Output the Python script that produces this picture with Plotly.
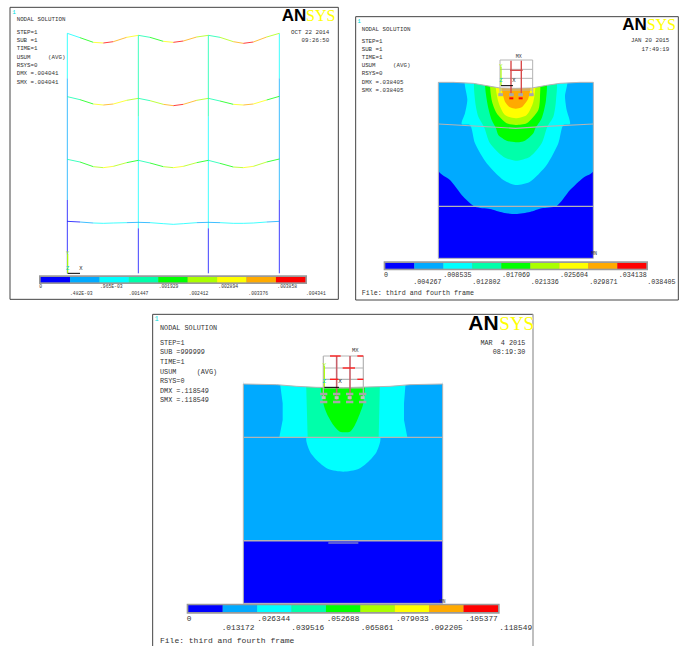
import plotly.graph_objects as go

BANDS = ['#0000ff', '#00aaff', '#00ffff', '#00ffaa', '#00ff00', '#aaff00', '#ffff00', '#ffaa00', '#ff0000']
GREY = '#b4b4b4'
INK = '#333333'
MONO = 'Liberation Mono'

# ---- panel 1 data (frame deflection, coordinates in panel units) ----
p1_info = ['NODAL SOLUTION', 'STEP=1', 'SUB =1', 'TIME=1', 'USUM     (AVG)', 'RSYS=0', 'DMX =.004041', 'SMX =.004041']
p1_info_y = [59, 97, 122, 147, 172, 197, 222, 248]
p1_date = ['OCT 22 2014', '09:26:50']
p1_labels_top = ['0', '.965E-03', '.001929', '.002894', '.003858']
p1_labels_top_x = [118, 300, 476, 655, 832]
p1_labels_bot = ['.482E-03', '.001447', '.002412', '.003376', '.004341']
p1_labels_bot_x = [210, 386, 566, 745, 918]
p1_floor_x = [202, 240, 280, 310, 340, 380, 415, 450, 490, 520, 550, 590, 625, 660, 700, 730, 760, 800, 838]
p1_floor1_y = [100, 113, 127, 129, 125, 112, 106, 112, 124, 127, 123, 111, 106, 112, 125, 130, 126, 111, 100]
p1_floor1_c = [2, 4, 6, 8, 7, 6, 3, 4, 6, 8, 7, 5, 3, 5, 7, 8, 7, 5, 3]
p1_floor2_y = [290, 299, 312, 315, 312, 301, 295, 302, 313, 317, 313, 301, 295, 303, 313, 315, 312, 300, 289]
p1_floor2_c = [3, 4, 6, 7, 6, 5, 3, 5, 7, 8, 7, 5, 3, 4, 6, 7, 6, 4, 3]
p1_floor3_y = [478, 486, 500, 503, 499, 488, 481, 489, 500, 503, 499, 488, 481, 490, 501, 503, 499, 486, 477]
p1_floor3_c = [3, 4, 5, 6, 5, 4, 3, 4, 5, 6, 5, 4, 3, 4, 5, 6, 5, 4, 3]
p1_floor4_y = [664, 666, 669, 670, 669, 668, 667, 668, 671, 673, 671, 668, 667, 668, 670, 670, 669, 666, 664]
p1_floor4_c = [0, 1, 2, 2, 2, 1, 1, 2, 2, 2, 2, 1, 1, 2, 2, 2, 2, 1, 0]
p1_columns_x = [202, 415, 625, 838]
p1_column_y = [[100, 235, 600, 820], [106, 350, 685, 820], [106, 350, 685, 820], [100, 235, 600, 820]]
p1_column_c = [[2, 1, 0], [3, 2, 0], [3, 2, 0], [2, 1, 0]]

# ---- panel 2 data ----
p2_info = ['NODAL SOLUTION', 'STEP=1', 'SUB =1', 'TIME=1', 'USUM     (AVG)', 'RSYS=0', 'DMX =.038405', 'SMX =.038405']
p2_info_y = [58, 94, 118, 143, 167, 192, 217, 241]
p2_date = ['JAN 20 2015', '17:49:19']
p2_labels_top = ['0', '.008535', '.017069', '.025604', '.034138']
p2_labels_top_x = [102, 280, 456, 630, 806]
p2_labels_bot = ['.004267', '.012802', '.021336', '.029871', '.038405']
p2_labels_bot_x = [190, 367, 542, 718, 892]
p2_surface_x = [265, 310, 370, 410, 450, 497, 545, 590, 630, 690, 730]
p2_surface_y = [217, 217, 220, 226, 234, 235, 234, 226, 220, 217, 217]
p2_blue_x = [265, 730, 730, 265]
p2_blue_y = [217, 217, 745, 745]
p2_band1_x = [265, 730, 730, 700, 660, 620, 575, 540, 497, 460, 420, 375, 340, 300, 265]
p2_band1_y = [217, 217, 484, 503, 540, 588, 595, 606, 612, 608, 597, 590, 560, 510, 482]
p2_band2_x = [347, 650, 645, 650, 660, 640, 625, 590, 540, 497, 460, 410, 375, 360, 335, 345, 352]
p2_band2_y = [200, 200, 260, 300, 342, 345, 400, 465, 515, 525, 510, 460, 400, 345, 342, 310, 270]
p2_band3_x = [378, 615, 618, 610, 592, 575, 540, 497, 460, 420, 402, 385, 375]
p2_band3_y = [200, 200, 270, 320, 350, 400, 440, 452, 440, 400, 350, 320, 270]
p2_band4_x = [410, 585, 588, 575, 556, 550, 525, 497, 470, 445, 438, 425, 412]
p2_band4_y = [200, 200, 270, 325, 355, 370, 392, 397, 392, 375, 355, 330, 280]
p2_band5_x = [425, 565, 570, 565, 530, 497, 470, 440, 425]
p2_band5_y = [200, 200, 260, 300, 340, 345, 340, 310, 270]
p2_band6_x = [440, 552, 550, 530, 497, 465, 445]
p2_band6_y = [200, 200, 275, 315, 325, 315, 275]
p2_band7_x = [455, 540, 535, 515, 497, 480, 465]
p2_band7_y = [200, 200, 265, 292, 296, 292, 275]
p2_layer1_x = [265, 420, 497, 575, 730]
p2_layer1_y = [342, 350, 355, 350, 342]
p2_layer2_x = [265, 730]
p2_layer2_y = [589, 589]

# ---- panel 3 data ----
p3_info = ['NODAL SOLUTION', 'STEP=1', 'SUB =999999', 'TIME=1', 'USUM     (AVG)', 'RSYS=0', 'DMX =.118549', 'SMX =.118549']
p3_info_y = [56, 99, 128, 157, 186, 214, 243, 272]
p3_date = ['MAR  4 2015', '08:19:30']
p3_labels_top = ['0', '.026344', '.052688', '.079033', '.105377']
p3_labels_top_x = [110, 322, 530, 738, 945]
p3_labels_bot = ['.013172', '.039516', '.065861', '.092205', '.118549']
p3_labels_bot_x = [215, 424, 632, 840, 1048]
p3_surface_x = [280, 380, 440, 500, 580, 640, 720, 780, 878]
p3_surface_y = [222, 224, 229, 232, 233, 232, 229, 224, 222]
p3_blue_x = [280, 878, 878, 280]
p3_blue_y = [692, 692, 880, 880]
p3_band1_x = [280, 878, 878, 280]
p3_band1_y = [205, 205, 695, 695]
p3_band2u_x = [388, 768, 762, 762, 772, 388, 398, 398]
p3_band2u_y = [205, 205, 280, 330, 382, 382, 330, 280]
p3_band2l_x = [470, 690, 680, 655, 625, 580, 535, 505, 480]
p3_band2l_y = [380, 380, 425, 455, 477, 485, 477, 455, 425]
p3_band3_x = [468, 690, 686, 473]
p3_band3_y = [205, 205, 385, 385]
p3_band4_x = [515, 640, 640, 630, 615, 600, 570, 550, 530, 520]
p3_band4_y = [205, 205, 280, 310, 345, 365, 365, 345, 310, 280]


def axes_for(fig, idx, crop, cw=684, ch=646):
    x, y, w, h = crop
    sx = 'xaxis' if idx == 1 else f'xaxis{idx}'
    sy = 'yaxis' if idx == 1 else f'yaxis{idx}'
    fig.layout[sx] = dict(domain=[x / cw, (x + w) / cw], range=[0, w * 3], visible=False, fixedrange=True,
                          anchor=f'y{idx}')
    fig.layout[sy] = dict(domain=[1 - (y + h) / ch, 1 - y / ch], range=[h * 3, 0], visible=False, fixedrange=True,
                          anchor=f'x{idx}')


fig = go.Figure()
for i, crop in enumerate([(0, 0, 340, 310), (350, 10, 334, 295), (150, 310, 390, 336)], 1):
    axes_for(fig, i, crop)


def ref(i):
    return dict(xaxis=f'x{i}', yaxis=f'y{i}')


def poly(i, xs, ys, color, smooth=False):
    fig.add_trace(go.Scatter(x=xs + xs[:1], y=ys + ys[:1], mode='lines', fill='toself', fillcolor=color,
                             line=dict(width=0, color=color, shape='spline' if smooth else 'linear', smoothing=0.7),
                             hoverinfo='skip', **ref(i)))


def line(i, xs, ys, color, width=1.0, opacity=1.0):
    fig.add_trace(go.Scatter(x=xs, y=ys, mode='lines', opacity=opacity, line=dict(color=color, width=width),
                             hoverinfo='skip', **ref(i)))


def text(i, xs, ys, labels, size, color=INK, pos='middle right', family=MONO):
    fig.add_trace(go.Scatter(x=xs, y=ys, text=labels, mode='text', textposition=pos,
                             textfont=dict(family=family, size=size, color=color), hoverinfo='skip', **ref(i)))


def frame(i, x0, y0, x1, y1):
    line(i, [x0, x1, x1, x0, x0], [y0, y0, y1, y1, y0], '#444444', 1)


def legend_bar(i, x0, x1, y0, y1):
    poly(i, [x0 - 5, x1 + 5, x1 + 5, x0 - 5], [y0 - 5, y0 - 5, y1 + 5, y1 + 5], '#9a9a9a')
    step = (x1 - x0) / len(BANDS)
    for k, c in enumerate(BANDS):
        poly(i, [x0 + k * step, x0 + (k + 1) * step, x0 + (k + 1) * step, x0 + k * step], [y0, y0, y1, y1], c)


def logo(i, xa, xs, y, size_a, size_s):
    text(i, [xa], [y], ['<b>AN</b>'], size_a, '#000000', family='Liberation Sans')
    text(i, [xs], [y], ['SYS'], size_s, '#ffff00', family='Liberation Serif')


def triad(i, x, y_top, y_mid, y_bot, x_lbl, size):
    line(i, [x, x], [y_top, y_bot], '#aaff00', 1.2)
    text(i, [x], [y_top], ['Y'], size, '#aaff00', 'middle center')
    text(i, [x], [y_mid], ['Z'], size, '#00cccc', 'middle center')
    line(i, [x, x_lbl - 3], [y_bot, y_bot], '#000000', 1)
    text(i, [x_lbl], [y_mid], ['X'], size, '#222222', 'middle center')


# Panel 1
frame(1, 30, 22, 1015, 898)
text(1, [42], [37], ['1'], 6, '#00dddd', 'middle center')
text(1, [50] * len(p1_info), p1_info_y, p1_info, 5.8)
text(1, [988, 988], [97, 122], p1_date, 5.8, pos='middle left')
logo(1, 845, 918, 50, 17, 16)
for col_x, col_y, col_c in zip(p1_columns_x, p1_column_y, p1_column_c):
    for k, c in enumerate(col_c):
        line(1, [col_x, col_x], [col_y[k], col_y[k + 1]], BANDS[c], 1.0, 0.75)
for ys_f, cs_f in [(p1_floor1_y, p1_floor1_c), (p1_floor2_y, p1_floor2_c), (p1_floor3_y, p1_floor3_c), (p1_floor4_y, p1_floor4_c)]:
    for k in range(len(p1_floor_x) - 1):
        line(1, p1_floor_x[k:k + 2], ys_f[k:k + 2], BANDS[cs_f[k]], 1.0, 0.75)
triad(1, 203, 762, 805, 820, 243, 5.5)
legend_bar(1, 122, 916, 831, 847)
text(1, p1_labels_top_x, [860] * 5, p1_labels_top, 4.7)
text(1, p1_labels_bot_x, [881] * 5, p1_labels_bot, 4.7)

# Panel 2
frame(2, 17, 20, 985, 870)
text(2, [27], [35], ['1'], 6, '#00dddd', 'middle center')
text(2, [35] * len(p2_info), p2_info_y, p2_info, 5.8)
text(2, [958, 958], [93, 118], p2_date, 5.8, pos='middle left')
logo(2, 817, 890, 48, 17, 16)
poly(2, p2_blue_x, p2_blue_y, BANDS[0])
poly(2, p2_band1_x, p2_band1_y, BANDS[1], True)
poly(2, p2_band2_x, p2_band2_y, BANDS[2], True)
poly(2, p2_band3_x, p2_band3_y, BANDS[3], True)
poly(2, p2_band4_x, p2_band4_y, BANDS[4], True)
poly(2, p2_band5_x, p2_band5_y, BANDS[5], True)
poly(2, p2_band6_x, p2_band6_y, BANDS[6], True)
poly(2, p2_band7_x, p2_band7_y, BANDS[7], True)
# white masks trim the smoothed contours to the soil block
poly(2, p2_surface_x + [760, 235], p2_surface_y + [130, 130], '#ffffff')
poly(2, [225, 265, 265, 225], [130, 130, 600, 600], '#ffffff')
poly(2, [730, 770, 770, 730], [130, 130, 600, 600], '#ffffff')
line(2, p2_surface_x, p2_surface_y, GREY, 1)
line(2, p2_layer1_x, p2_layer1_y, GREY, 1.2)
line(2, p2_layer2_x, p2_layer2_y, GREY, 1.2)
line(2, [265, 265, 730, 730], [217, 745, 745, 217], GREY, 1)
# structure on top of the soil
for yy in [150, 178, 205, 240]:
    line(2, [450, 548], [yy, yy], GREY, 1)
for xx in [450, 548]:
    line(2, [xx, xx], [150, 258], GREY, 1)
for xx in [483, 514]:
    line(2, [xx, xx], [152, 258], '#d84a4a', 1.4)
line(2, [480, 518], [181, 181], '#d84a4a', 1.4)
for xx in [452, 484, 512, 544]:
    line(2, [xx - 7, xx + 7], [254, 254], '#a8a8a8', 3)
for xx in [484, 512]:
    line(2, [xx - 6, xx + 6], [265, 265], '#ff0000', 2)
text(2, [506], [141], ['MX'], 5, INK, 'middle center')
text(2, [732], [732], ['MN'], 5, INK, 'middle center')
triad(2, 453, 170, 212, 227, 492, 5.5)
legend_bar(2, 106, 889, 759, 776)
text(2, p2_labels_top_x, [795] * 5, p2_labels_top, 6.7)
text(2, p2_labels_bot_x, [818] * 5, p2_labels_bot, 6.7)
text(2, [35], [851], ['File: third and fourth frame'], 6.7)

# Panel 3
line(3, [8, 8], [1008, 13], '#444444', 1)
line(3, [8, 1149], [13, 13], '#444444', 1)
line(3, [1149, 1149], [13, 1008], '#aaaaaa', 1.5)
text(3, [20], [28], ['1'], 7, '#00dddd', 'middle center')
text(3, [30] * len(p3_info), p3_info_y, p3_info, 6.8)
text(3, [1126, 1126], [99, 128], p3_date, 6.8, pos='middle left')
logo(3, 955, 1048, 45, 21, 19)
poly(3, p3_band1_x, p3_band1_y, BANDS[1])
poly(3, p3_blue_x, p3_blue_y, BANDS[0])
poly(3, p3_band2u_x, p3_band2u_y, BANDS[2])
poly(3, p3_band2l_x, p3_band2l_y, BANDS[2], True)
poly(3, p3_band3_x, p3_band3_y, BANDS[3])
poly(3, p3_band4_x, p3_band4_y, BANDS[4], True)
poly(3, p3_surface_x + [890, 270], p3_surface_y + [130, 130], '#ffffff')
line(3, p3_surface_x, p3_surface_y, GREY, 1)
line(3, [280, 878], [382, 382], GREY, 1.2)
line(3, [280, 878], [692, 692], GREY, 1.5)
line(3, [535, 625], [699, 699], GREY, 1)
line(3, [280, 280, 878, 878], [222, 880, 880, 222], GREY, 1)
for yy in [138, 174, 208, 234]:
    line(3, [520, 640], [yy, yy], GREY, 1.2)
for xx in [520, 640]:
    line(3, [xx, xx], [138, 260], GREY, 1.2)
for xx in [560, 600]:
    line(3, [xx, xx], [138, 270], '#c8606a', 1.6)
for xa, xb, yy in [(540, 572, 138), (578, 615, 174), (622, 640, 138), (540, 565, 208), (622, 640, 208)]:
    line(3, [xa, xb], [yy, yy], '#ff2020', 1.4)
for xx in [521, 560, 599, 638]:
    line(3, [xx - 11, xx + 11], [252, 252], '#a8a8a8', 2.5)
    line(3, [xx - 11, xx + 11], [276, 276], '#a8a8a8', 2.5)
    line(3, [xx - 6, xx + 6], [263, 263], '#c0c0c0', 3)
text(3, [616], [123], ['MX'], 5.5, INK, 'middle center')
text(3, [878], [875], ['MN'], 4.5, INK, 'middle center')
triad(3, 523, 167, 215, 232, 570, 6)
legend_bar(3, 115, 1044, 886, 906)
text(3, p3_labels_top_x, [928] * 5, p3_labels_top, 7.8)
text(3, p3_labels_bot_x, [955] * 5, p3_labels_bot, 7.8)
text(3, [30], [993], ['File: third and fourth frame'], 8)

fig.update_layout(width=684, height=646, margin=dict(l=0, r=0, t=0, b=0), showlegend=False,
                  paper_bgcolor='white', plot_bgcolor='white')
fig.write_html('out.html', config={'displayModeBar': False}, post_script="document.body.style.margin='0';")
